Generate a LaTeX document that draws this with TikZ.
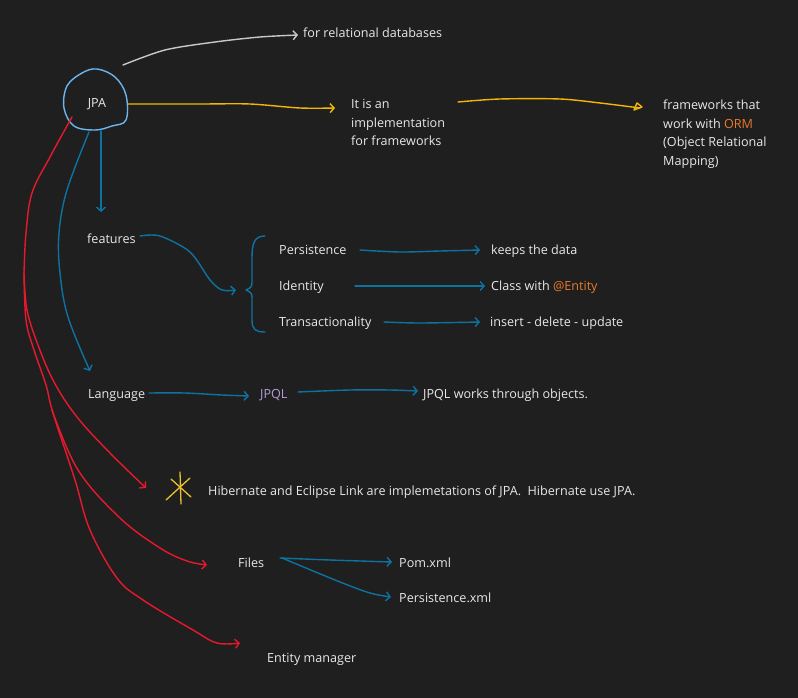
\documentclass[tikz,border=0pt]{standalone}
\usepackage{fontspec}
\setmainfont{Open Sans}
\usetikzlibrary{arrows.meta}
\definecolor{bg}{HTML}{1F1F1F}
\definecolor{txt}{HTML}{E8E8E8}
\definecolor{blu}{HTML}{0E72A0}
\definecolor{lblu}{HTML}{6BB6F0}
\definecolor{yel}{HTML}{F2B705}
\definecolor{redc}{HTML}{E8192C}
\definecolor{gry}{HTML}{C8C8C8}
\definecolor{org}{HTML}{E87A2A}
\definecolor{pur}{HTML}{B59BD6}
\definecolor{gold}{HTML}{E8C030}
\tikzset{
  lbl/.style={anchor=base west,inner sep=0pt,text=txt,font=\fontsize{12.6}{18.5}\selectfont,align=left},
  ink/.style={line width=1.4pt,line cap=round,line join=round},
  barb/.style={-{Straight Barb[length=4pt,width=9pt]}},
}
\begin{document}
\begin{tikzpicture}[x=1pt,y=-1pt]
\fill[bg] (0,0) rectangle (798,698);
\useasboundingbox (0,0) rectangle (798,698);

% JPA circle
\node[lbl,anchor=center] (jpa) at (97,104) {JPA};
\draw[ink,lblu] plot[smooth cycle,tension=0.6] coordinates {(97,69) (115,77) (126,95) (126,120) (112,126) (95,130) (74,126) (64,108) (67,86) (82,73)};

% top texts
\node[lbl] (rel) at (303,38) {for relational databases};
\node[lbl,anchor=north west] (impl) at (351,99.5) {It is an\\implementation\\for frameworks};
\node[lbl,anchor=north west] (orm) at (663,100) {frameworks that\\work with \textcolor{org}{ORM}\\(Object Relational\\Mapping)};

\coordinate (g0) at (123,65);
\coordinate (g1) at (298,35);
\draw[ink,gry,barb] plot[smooth,tension=0.5] coordinates {(g0) (165,50) (215,42) (260,37) (g1)};

\coordinate (y0) at (128,104);
\coordinate (y1) at (335,108);
\draw[ink,yel,barb] plot[smooth,tension=0.5] coordinates {(y0) (200,104) (250,104) (300,108) (y1)};

\coordinate (o0) at (458,102);
\coordinate (o1) at (640,108);
\draw[ink,yel] plot[smooth,tension=0.5] coordinates {(o0) (500,99) (560,99) (600,103) (o1)};
\draw[ink,yel] (634,110) -- (637,103) -- (642,107) -- cycle;

% features
\node[lbl] (feat) at (87,243) {features};
\draw[ink,blu,barb] (101,131) -- (101,212);

\coordinate (br) at (236,290);
\draw[ink,blu,barb] plot[smooth,tension=0.5] coordinates {(140,236) (160,236) (190,252) (210,280) (222,290) (br)};
\draw[ink,blu] (265,236) .. controls (254,236) and (252,244) .. (252,258) -- (252,280) .. controls (252,287) .. (246,290) .. controls (252,293) .. (252,300) -- (252,320) .. controls (252,330) and (256,332) .. (265,332);

\node[lbl] (pers) at (279,254) {Persistence};
\node[lbl] (iden) at (279,290) {Identity};
\node[lbl] (tran) at (279,326) {Transactionality};
\node[lbl] (keep) at (491,254) {keeps the data};
\node[lbl] (cls) at (491,290) {Class with \textcolor{org}{@Entity}};
\node[lbl] (ins) at (490,326) {insert - delete - update};
\draw[ink,blu,barb] plot[smooth,tension=0.5] coordinates {(360,250) (400,252) (440,251) (480,250)};
\draw[ink,blu,barb] (355,286) -- (485,286);
\draw[ink,blu,barb] plot[smooth,tension=0.5] coordinates {(384,322) (420,323) (480,322)};

% language
\node[lbl] (lang) at (88,398) {Language};
\node[lbl,text=pur] (jpql) at (260,398) {JPQL};
\node[lbl] (jw) at (423,398) {JPQL works through objects.};
\draw[ink,blu,barb] plot[smooth,tension=0.6] coordinates {(89,132) (67,190) (59,233) (60,273) (68,317) (90,371)};
\draw[ink,blu,barb] plot[smooth,tension=0.5] coordinates {(149,393) (185,393) (222,395) (249,396)};
\draw[ink,blu,barb] plot[smooth,tension=0.5] coordinates {(298,392) (350,390) (390,390) (418,391)};

% hibernate
\node[lbl] (hib) at (208,495) {Hibernate and Eclipse Link are implemetations of JPA.\ \ Hibernate use JPA.};
\draw[line width=1.3pt,gold,line cap=round] (180,472) -- (181,504) (166,500) -- (190,478) (171,479) -- (191,497);

% files
\node[lbl] (files) at (238,567) {Files};
\node[lbl] (pom) at (399,567) {Pom.xml};
\node[lbl] (pxml) at (399,602) {Persistence.xml};
\draw[ink,blu,barb] plot[smooth,tension=0.5] coordinates {(280,558) (330,560) (392,562)};
\draw[ink,blu,barb] plot[smooth,tension=0.5] coordinates {(282,558) (340,582) (370,593) (391,597)};

\node[lbl] (em) at (267,662) {Entity manager};

% red lines
\draw[ink,redc] plot[smooth,tension=0.6] coordinates {(72,117) (50,157) (32,193) (26,233) (24,273)};
\draw[ink,redc,barb] plot[smooth,tension=0.6] coordinates {(24,273) (27,310) (38,345) (54,382) (77,417) (110,453) (146,488)};
\draw[ink,redc,barb] plot[smooth,tension=0.6] coordinates {(24,273) (26,320) (34,350) (46,385) (53,413) (75,480) (90,530) (117,578) (143,600) (193,630) (217,643) (240,643)};
\draw[ink,redc,barb] plot[smooth,tension=0.6] coordinates {(52,410) (78,470) (120,518) (160,548) (187,561) (207,565)};
\end{tikzpicture}
\end{document}
